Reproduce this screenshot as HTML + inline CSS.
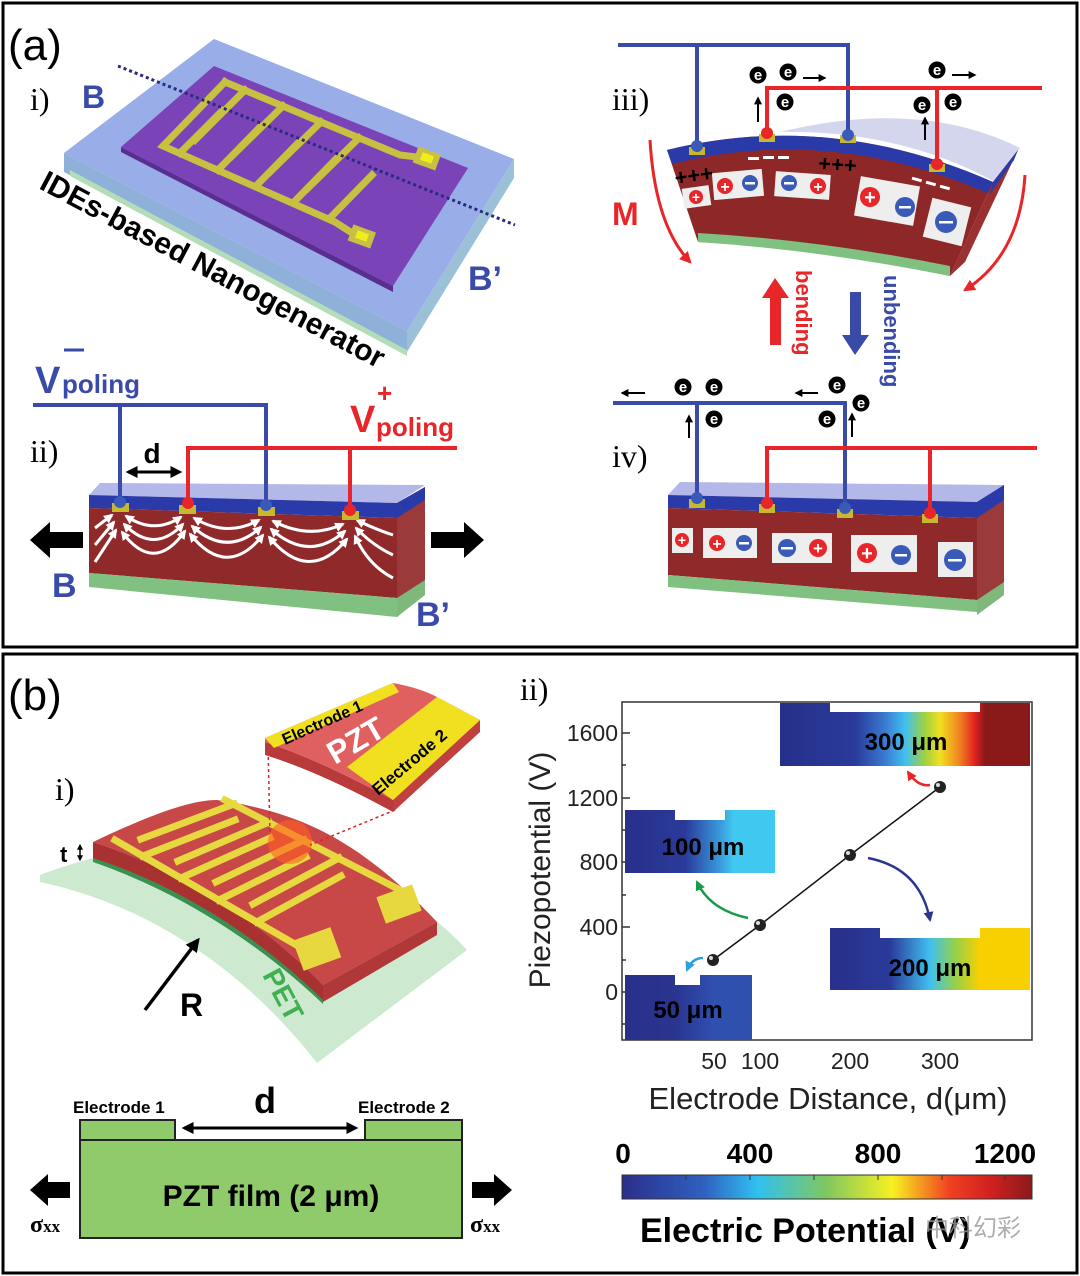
<!DOCTYPE html>
<html><head><meta charset="utf-8"><style>
html,body{margin:0;padding:0;background:#fff;}
svg{display:block;}
text{font-family:"Liberation Sans",sans-serif;}
.ser{font-family:"Liberation Serif",serif;}
</style></head><body>
<svg width="1080" height="1276" viewBox="0 0 1080 1276" xmlns="http://www.w3.org/2000/svg">
<defs>
<marker id="wa" viewBox="0 0 10 10" refX="8" refY="5" markerWidth="3.2" markerHeight="3.2" orient="auto-start-reverse"><path d="M0,0 L10,5 L0,10 Z" fill="#fff"/></marker>
<marker id="ka" viewBox="0 0 10 10" refX="8" refY="5" markerWidth="4" markerHeight="4" orient="auto-start-reverse"><path d="M0,0 L10,5 L0,10 Z" fill="#000"/></marker>
<marker id="ra" viewBox="0 0 10 10" refX="8" refY="5" markerWidth="4" markerHeight="4" orient="auto"><path d="M0,0 L10,5 L0,10 Z" fill="#e8262a"/></marker>
<marker id="ga" viewBox="0 0 10 10" refX="8" refY="5" markerWidth="4" markerHeight="4" orient="auto"><path d="M0,0 L10,5 L0,10 Z" fill="#1a9a4a"/></marker>
<marker id="ba" viewBox="0 0 10 10" refX="8" refY="5" markerWidth="4" markerHeight="4" orient="auto"><path d="M0,0 L10,5 L0,10 Z" fill="#2a3590"/></marker>
<marker id="ca" viewBox="0 0 10 10" refX="8" refY="5" markerWidth="4" markerHeight="4" orient="auto"><path d="M0,0 L10,5 L0,10 Z" fill="#2aa0e0"/></marker>
<linearGradient id="g300" x1="0" x2="1"><stop offset="0" stop-color="#25308a"/><stop offset="0.3" stop-color="#2a3a9a"/><stop offset="0.42" stop-color="#3a7ad0"/><stop offset="0.5" stop-color="#40c0f0"/><stop offset="0.58" stop-color="#a0d040"/><stop offset="0.64" stop-color="#f0e020"/><stop offset="0.72" stop-color="#f08020"/><stop offset="0.78" stop-color="#e02020"/><stop offset="0.82" stop-color="#8a1a1a"/><stop offset="1" stop-color="#8a1a1a"/></linearGradient>
<linearGradient id="g100" x1="0" x2="1"><stop offset="0" stop-color="#28308a"/><stop offset="0.4" stop-color="#2a3a9a"/><stop offset="0.65" stop-color="#3aa0e0"/><stop offset="0.72" stop-color="#40c8f0"/><stop offset="1" stop-color="#40c8f0"/></linearGradient>
<linearGradient id="g200" x1="0" x2="1"><stop offset="0" stop-color="#28308a"/><stop offset="0.3" stop-color="#2a3a9a"/><stop offset="0.5" stop-color="#40c0f0"/><stop offset="0.62" stop-color="#90d050"/><stop offset="0.75" stop-color="#f8d000"/><stop offset="1" stop-color="#f8d000"/></linearGradient>
<linearGradient id="g50" x1="0" x2="1"><stop offset="0" stop-color="#28308a"/><stop offset="0.4" stop-color="#2a3590"/><stop offset="0.7" stop-color="#3050b0"/><stop offset="1" stop-color="#3050b0"/></linearGradient>
<linearGradient id="gcb" x1="0" x2="1"><stop offset="0" stop-color="#2a2f8a"/><stop offset="0.2" stop-color="#3060c0"/><stop offset="0.33" stop-color="#30c0f0"/><stop offset="0.5" stop-color="#80c860"/><stop offset="0.66" stop-color="#f8f020"/><stop offset="0.8" stop-color="#f04020"/><stop offset="0.9" stop-color="#d02020"/><stop offset="1" stop-color="#8a1a1a"/></linearGradient>
</defs>

<rect x="3" y="3" width="1074" height="644" fill="none" stroke="#000" stroke-width="3"/>
<rect x="3" y="654" width="1074" height="619" fill="none" stroke="#000" stroke-width="3"/>

<!-- ============ (a) i ============ -->
<text x="8" y="60" font-size="44">(a)</text>
<text x="30" y="110" font-size="32" class="ser">i)</text>
<polygon points="64,153 407,331 407,352 64,172" fill="#8fb0d8"/>
<polygon points="407,331 514,159 514,178 407,352" fill="#9cc0d8"/>
<polygon points="70,170 407,350 407,356 70,176" fill="#b5dcb8"/>
<polygon points="64,153 214,39 514,159 407,331" fill="#8ea4e6" opacity="0.9"/>
<polygon points="121,147 214,66 468,168 393,286" fill="#7a44b8"/>
<polygon points="121,147 393,286 393,292 121,152" fill="#5a2e90"/>
<g stroke="#c8c040" stroke-width="7" fill="none" stroke-linecap="square">
<path d="M225,82 L400,155 L425,158"/>
<path d="M225,82 L163,146 L335,222 L360,238"/>
<path d="M245,90 L195,140"/><path d="M283,106 L232,156"/><path d="M321,122 L270,172"/><path d="M359,138 L308,188"/>
<path d="M180,153 L222,111"/><path d="M218,170 L260,127"/><path d="M256,186 L298,143"/><path d="M294,202 L336,159"/><path d="M330,218 L372,175"/>
</g>
<rect x="415" y="150" width="24" height="17" fill="#c8c040" transform="rotate(20 427 158)"/>
<rect x="421" y="154" width="12" height="8" fill="#f0ec20" transform="rotate(20 427 158)"/>
<rect x="350" y="228" width="24" height="17" fill="#c8c040" transform="rotate(20 362 236)"/>
<rect x="356" y="232" width="12" height="8" fill="#f0ec20" transform="rotate(20 362 236)"/>
<line x1="118" y1="66" x2="515" y2="225" stroke="#2a2a80" stroke-width="3" stroke-dasharray="3,3"/>
<text x="82" y="108" font-size="32" font-weight="bold" fill="#3a4aa8">B</text>
<text x="468" y="290" font-size="34" font-weight="bold" fill="#3a4aa8">B’</text>
<text x="0" y="0" font-size="30" font-weight="bold" transform="translate(38,188) rotate(28)">IDEs-based Nanogenerator</text>

<!-- ============ (a) ii ============ -->
<text x="30" y="462" font-size="32" class="ser">ii)</text>
<text x="35" y="393" font-size="38" font-weight="bold" fill="#3a4aa8">V</text>
<text x="62" y="393" font-size="26" font-weight="bold" fill="#3a4aa8">poling</text>
<line x1="64" y1="350" x2="84" y2="350" stroke="#3a4aa8" stroke-width="3"/>
<text x="350" y="432" font-size="38" font-weight="bold" fill="#e8262a">V</text>
<text x="376" y="436" font-size="26" font-weight="bold" fill="#e8262a">poling</text>
<text x="377" y="402" font-size="26" font-weight="bold" fill="#e8262a">+</text>
<polygon points="89,495 100,483 425,485 397,503" fill="#b4b8e8"/>
<polygon points="397,503 425,487 425,592 397,617" fill="#9a3a3a"/>
<polygon points="397,503 425,487 425,500 397,518" fill="#2a3aa8"/>
<polygon points="397,598 425,580 425,595 397,617" fill="#7fb87a"/>
<polygon points="89,495 397,503 397,518 89,508" fill="#2a3aa8"/>
<polygon points="89,508 397,518 397,598 89,573" fill="#902a2a"/>
<polygon points="89,573 397,598 397,617 89,587" fill="#80c080"/>
<g stroke="#fff" stroke-width="3" fill="none" marker-start="url(#wa)" marker-end="url(#wa)">
<path d="M126,516 Q154,535 181,517"/><path d="M124,524 Q154,555 183,524"/><path d="M122,532 Q154,575 185,531"/>
<path d="M194,518 Q227,538 259,520"/><path d="M192,526 Q227,558 261,527"/><path d="M190,534 Q227,580 263,535"/>
<path d="M273,521 Q309,540 343,524"/><path d="M271,529 Q309,563 345,531"/><path d="M269,537 Q309,585 347,539"/>
</g>
<g stroke="#fff" stroke-width="3" fill="none" marker-end="url(#wa)">
<path d="M95,528 L112,515"/><path d="M95,545 L114,522"/><path d="M95,562 L116,530"/>
<path d="M393,535 Q372,528 357,520"/><path d="M393,555 Q372,545 356,528"/><path d="M393,578 Q368,565 355,536"/>
</g>
<g fill="none" stroke-width="4">
<path d="M33,405 L266,405 L266,505" stroke="#3a4aa8"/>
<path d="M120,405 L120,502" stroke="#3a4aa8"/>
<path d="M457,448 L188,448 L188,503" stroke="#e8262a"/>
<path d="M350,448 L350,510" stroke="#e8262a"/>
</g>
<g fill="#c8b830"><rect x="112" y="503" width="17" height="9"/><rect x="179" y="505" width="17" height="9"/><rect x="258" y="507" width="17" height="9"/><rect x="342" y="511" width="17" height="9"/></g>
<circle cx="120" cy="502" r="6" fill="#3a5ab8"/><circle cx="188" cy="503" r="6" fill="#e8262a"/><circle cx="266" cy="505" r="6" fill="#3a5ab8"/><circle cx="350" cy="510" r="6" fill="#e8262a"/>
<line x1="128" y1="472" x2="180" y2="472" stroke="#000" stroke-width="3" marker-start="url(#ka)" marker-end="url(#ka)"/>
<text x="152" y="463" font-size="28" font-weight="bold" text-anchor="middle">d</text>
<polygon points="30,540 50,522 50,532 83,532 83,548 50,548 50,558" fill="#000"/>
<polygon points="484,540 464,522 464,532 431,532 431,548 464,548 464,558" fill="#000"/>
<text x="52" y="597" font-size="34" font-weight="bold" fill="#3a4aa8">B</text>
<text x="416" y="626" font-size="34" font-weight="bold" fill="#3a4aa8">B’</text>

<!-- ============ (a) iii ============ -->
<text x="612" y="110" font-size="32" class="ser">iii)</text>
<path d="M780,132 Q920,98 1020,148 L995,182 Q900,130 780,132 Z" fill="#c8cce8" opacity="0.8"/>
<path d="M667,150 Q830,110 993,182 L950,276 Q820,248 698,242 Z" fill="#8e2828"/>
<path d="M698,233 Q820,240 950,266 L950,276 Q820,250 698,242 Z" fill="#80c080"/>
<path d="M667,150 Q830,110 993,182 L990,194 Q830,124 672,164 Z" fill="#2a3aa8"/>
<path d="M993,182 L1018,150 L965,262 L950,276 Z" fill="#9a3030"/>
<path d="M993,182 L1018,150 L1014,160 L990,194 Z" fill="#2a3aa8"/>
<g fill="#eee">
<rect x="683" y="187" width="27" height="20" transform="rotate(-8 696 197)"/>
<rect x="713" y="171" width="50" height="27" transform="rotate(-5 738 185)"/>
<rect x="775" y="173" width="55" height="25" transform="rotate(4 802 185)"/>
<rect x="857" y="181" width="60" height="40" transform="rotate(10 887 201)"/>
<rect x="927" y="202" width="40" height="40" transform="rotate(14 947 222)"/>
</g>
<g font-weight="bold" fill="#fff" text-anchor="middle">
<circle cx="696" cy="197" r="7" fill="#e8262a"/><text x="696" y="202" font-size="14">+</text>
<circle cx="725" cy="186" r="8" fill="#e8262a"/><text x="725" y="192" font-size="16">+</text>
<circle cx="750" cy="183" r="8" fill="#3a5ab8"/><rect x="745" y="182" width="10" height="2.5"/>
<circle cx="789" cy="183" r="8" fill="#3a5ab8"/><rect x="784" y="182" width="10" height="2.5"/>
<circle cx="818" cy="186" r="8" fill="#e8262a"/><text x="818" y="192" font-size="16">+</text>
<circle cx="870" cy="197" r="10" fill="#e8262a"/><text x="870" y="204" font-size="20">+</text>
<circle cx="905" cy="207" r="10" fill="#3a5ab8"/><rect x="899" y="206" width="12" height="2.5"/>
<circle cx="946" cy="222" r="11" fill="#3a5ab8"/><rect x="939" y="221" width="14" height="2.5"/>
</g>
<text x="675" y="182" font-size="22" font-weight="bold" transform="rotate(-8 700 178)">+++</text>
<text x="818" y="172" font-size="22" font-weight="bold" transform="rotate(4 840 168)">+++</text>
<g fill="#fff"><rect x="748" y="157" width="11" height="3"/><rect x="763" y="156" width="11" height="3"/><rect x="778" y="156" width="11" height="3"/>
<rect x="912" y="178" width="10" height="3" transform="rotate(15 917 179)"/><rect x="926" y="182" width="10" height="3" transform="rotate(15 931 183)"/><rect x="940" y="186" width="10" height="3" transform="rotate(15 945 187)"/></g>
<g fill="none" stroke-width="4">
<path d="M618,45 L848,45 L848,135" stroke="#3a4aa8"/>
<path d="M697,45 L697,148" stroke="#3a4aa8"/>
<path d="M1042,88 L767,88 L767,135" stroke="#e8262a"/>
<path d="M937,88 L937,165" stroke="#e8262a"/>
</g>
<g fill="#c8b830"><rect x="689" y="147" width="16" height="8"/><rect x="759" y="134" width="16" height="8"/><rect x="840" y="135" width="16" height="8"/><rect x="929" y="164" width="16" height="8"/></g>
<circle cx="697" cy="146" r="6" fill="#3a5ab8"/><circle cx="767" cy="133" r="6" fill="#e8262a"/><circle cx="848" cy="135" r="6" fill="#3a5ab8"/><circle cx="937" cy="164" r="6" fill="#e8262a"/>
<g font-size="15" font-weight="bold" fill="#fff" text-anchor="middle">
<circle cx="758" cy="75" r="8.5" fill="#000"/><text x="758" y="80">e</text>
<circle cx="788" cy="72" r="8.5" fill="#000"/><text x="788" y="77">e</text>
<circle cx="785" cy="102" r="8.5" fill="#000"/><text x="785" y="107">e</text>
<circle cx="937" cy="70" r="8.5" fill="#000"/><text x="937" y="75">e</text>
<circle cx="922" cy="105" r="8.5" fill="#000"/><text x="922" y="110">e</text>
<circle cx="953" cy="102" r="8.5" fill="#000"/><text x="953" y="107">e</text>
</g>
<g stroke="#000" stroke-width="2" marker-end="url(#ka)">
<line x1="803" y1="78" x2="825" y2="78"/><line x1="952" y1="75" x2="975" y2="75"/>
<line x1="758" y1="122" x2="758" y2="98"/><line x1="925" y1="140" x2="925" y2="118"/>
</g>
<text x="612" y="225" font-size="32" font-weight="bold" fill="#e8262a">M</text>
<path d="M650,140 Q655,225 690,262" fill="none" stroke="#e8262a" stroke-width="3" marker-end="url(#ra)"/>
<path d="M1025,175 Q1020,255 965,290" fill="none" stroke="#e8262a" stroke-width="3" marker-end="url(#ra)"/>
<polygon points="775,278 762,298 770,298 770,345 781,345 781,298 789,298" fill="#e8262a"/>
<polygon points="855,355 842,335 850,335 850,292 861,292 861,335 869,335" fill="#3a4aa8"/>
<text x="0" y="0" font-size="22" font-weight="bold" fill="#e8262a" transform="translate(796,270) rotate(90)">bending</text>
<text x="0" y="0" font-size="22" font-weight="bold" fill="#3a4aa8" transform="translate(884,275) rotate(90)">unbending</text>

<!-- ============ (a) iv ============ -->
<text x="612" y="467" font-size="32" class="ser">iv)</text>
<polygon points="668,495 680,482 1004,485 977,502" fill="#b4b8e8"/>
<polygon points="977,502 1004,485 1004,590 977,615" fill="#9a3a3a"/>
<polygon points="977,502 1004,485 1004,500 977,518" fill="#2a3aa8"/>
<polygon points="977,600 1004,582 1004,595 977,615" fill="#7fb87a"/>
<polygon points="668,495 977,502 977,518 668,508" fill="#2a3aa8"/>
<polygon points="668,508 977,518 977,600 668,575" fill="#902a2a"/>
<polygon points="668,575 977,600 977,612 668,587" fill="#80c080"/>
<g fill="#eee"><rect x="672" y="528" width="21" height="25"/><rect x="703" y="528" width="54" height="30"/><rect x="772" y="533" width="60" height="30"/><rect x="851" y="535" width="66" height="37"/><rect x="938" y="542" width="35" height="35"/></g>
<g font-weight="bold" fill="#fff" text-anchor="middle">
<circle cx="682" cy="540" r="7" fill="#e8262a"/><text x="682" y="545" font-size="14">+</text>
<circle cx="717" cy="543" r="8" fill="#e8262a"/><text x="717" y="549" font-size="16">+</text>
<circle cx="744" cy="543" r="8" fill="#3a5ab8"/><rect x="739" y="542" width="10" height="2.5"/>
<circle cx="787" cy="548" r="9" fill="#3a5ab8"/><rect x="781" y="547" width="12" height="2.5"/>
<circle cx="818" cy="548" r="9" fill="#e8262a"/><text x="818" y="554" font-size="17">+</text>
<circle cx="867" cy="553" r="10" fill="#e8262a"/><text x="867" y="560" font-size="20">+</text>
<circle cx="901" cy="555" r="10" fill="#3a5ab8"/><rect x="895" y="554" width="12" height="2.5"/>
<circle cx="955" cy="560" r="11" fill="#3a5ab8"/><rect x="948" y="559" width="14" height="2.5"/>
</g>
<g fill="none" stroke-width="4">
<path d="M613,403 L845,403 L845,508" stroke="#3a4aa8"/>
<path d="M697,403 L697,498" stroke="#3a4aa8"/>
<path d="M1037,448 L767,448 L767,503" stroke="#e8262a"/>
<path d="M930,448 L930,513" stroke="#e8262a"/>
</g>
<g fill="#c8b830"><rect x="689" y="499" width="16" height="9"/><rect x="759" y="504" width="16" height="9"/><rect x="837" y="509" width="16" height="9"/><rect x="922" y="514" width="16" height="9"/></g>
<circle cx="697" cy="498" r="6" fill="#3a5ab8"/><circle cx="767" cy="503" r="6" fill="#e8262a"/><circle cx="845" cy="508" r="6" fill="#3a5ab8"/><circle cx="930" cy="513" r="6" fill="#e8262a"/>
<g font-size="15" font-weight="bold" fill="#fff" text-anchor="middle">
<circle cx="683" cy="387" r="8.5" fill="#000"/><text x="683" y="392">e</text>
<circle cx="714" cy="387" r="8.5" fill="#000"/><text x="714" y="392">e</text>
<circle cx="714" cy="419" r="8.5" fill="#000"/><text x="714" y="424">e</text>
<circle cx="837" cy="385" r="8.5" fill="#000"/><text x="837" y="390">e</text>
<circle cx="861" cy="403" r="8.5" fill="#000"/><text x="861" y="408">e</text>
<circle cx="827" cy="419" r="8.5" fill="#000"/><text x="827" y="424">e</text>
</g>
<g stroke="#000" stroke-width="2" marker-end="url(#ka)">
<line x1="645" y1="393" x2="622" y2="393"/><line x1="818" y1="393" x2="796" y2="393"/>
<line x1="689" y1="438" x2="689" y2="416"/><line x1="852" y1="437" x2="852" y2="414"/>
</g>

<!-- ============ (b) i ============ -->
<text x="8" y="710" font-size="44">(b)</text>
<text x="55" y="800" font-size="32" class="ser">i)</text>
<path d="M40,875 C130,840 250,830 330,860 C400,890 440,920 467,950 L317,1063 C260,990 170,910 40,882 Z" fill="#c8e8cc" opacity="0.9"/>
<path d="M93,842 C150,815 190,800 217,800 C300,812 360,840 437,922 L323,985 C260,920 180,870 93,842 Z" fill="#c84848"/>
<path d="M93,842 C180,870 260,920 323,985 L323,1002 C260,940 180,888 93,860 Z" fill="#a83232"/>
<path d="M93,858 C180,886 260,938 323,1000 L323,1004 C260,944 180,892 93,862 Z" fill="#3a9050"/>
<path d="M437,922 L323,985 L323,1002 L437,935 Z" fill="#b03838"/>
<g stroke="#e8d840" stroke-width="7" fill="none" stroke-linecap="square">
<path d="M115,840 L305,950"/>
<path d="M225,800 L400,890"/>
<path d="M143,856 L235,820"/><path d="M181,878 L270,838"/><path d="M219,900 L306,857"/><path d="M257,922 L341,876"/>
<path d="M234,804 L141,839"/><path d="M269,822 L178,861"/><path d="M304,840 L216,882"/><path d="M339,858 L253,904"/>
</g>
<rect x="297" y="933" width="40" height="32" fill="#e8d840" transform="rotate(-20 317 949)"/>
<rect x="380" y="890" width="38" height="28" fill="#e8d840" transform="rotate(-20 399 904)"/>
<circle cx="290" cy="842" r="22" fill="#ff6020" opacity="0.6"/>
<g stroke="#e02020" stroke-width="1.5" stroke-dasharray="3,3" fill="none">
<line x1="268" y1="745" x2="270" y2="835"/><line x1="395" y1="810" x2="310" y2="845"/>
</g>
<text x="60" y="862" font-size="22" font-weight="bold">t</text>
<line x1="80" y1="845" x2="80" y2="860" stroke="#000" stroke-width="1.5" marker-start="url(#ka)" marker-end="url(#ka)"/>
<line x1="145" y1="1010" x2="198" y2="940" stroke="#000" stroke-width="3.5" marker-end="url(#ka)"/>
<text x="180" y="1016" font-size="32" font-weight="bold">R</text>
<text x="0" y="0" font-size="28" font-weight="bold" fill="#40b050" transform="translate(262,975) rotate(62)">PET</text>
<path d="M265,742 Q320,760 393,800 L393,812 Q320,772 265,755 Z" fill="#b83a3a"/>
<path d="M480,720 L480,732 L393,812 L393,800 Z" fill="#c04040"/>
<path d="M265,738 L393,683 Q420,688 437,697 L480,720 L393,800 Q320,760 265,742 Z" fill="#e06060"/>
<path d="M265,738 L393,683 L399,692 L274,748 Z" fill="#f0e020"/>
<path d="M347,767 L437,697 L480,720 L393,800 Z" fill="#f0e020"/>
<text x="0" y="0" font-size="16" font-weight="bold" transform="translate(285,745) rotate(-24)">Electrode 1</text>
<text x="0" y="0" font-size="32" font-weight="bold" fill="#fff" transform="translate(335,765) rotate(-30)">PZT</text>
<text x="0" y="0" font-size="17" font-weight="bold" transform="translate(378,796) rotate(-40)">Electrode 2</text>
<rect x="80" y="1120" width="95" height="20" fill="#8fcb6a" stroke="#222" stroke-width="2"/>
<rect x="365" y="1120" width="97" height="20" fill="#8fcb6a" stroke="#222" stroke-width="2"/>
<rect x="80" y="1140" width="382" height="98" fill="#8fcb6a" stroke="#222" stroke-width="2"/>
<text x="73" y="1113" font-size="17" font-weight="bold">Electrode 1</text>
<text x="358" y="1113" font-size="17" font-weight="bold">Electrode 2</text>
<text x="265" y="1113" font-size="36" font-weight="bold" text-anchor="middle">d</text>
<line x1="184" y1="1128" x2="356" y2="1128" stroke="#000" stroke-width="3" marker-start="url(#ka)" marker-end="url(#ka)"/>
<text x="271" y="1206" font-size="30" font-weight="bold" text-anchor="middle">PZT film (2 μm)</text>
<polygon points="30,1190 48,1174 48,1182 70,1182 70,1198 48,1198 48,1206" fill="#000"/>
<polygon points="512,1190 494,1174 494,1182 472,1182 472,1198 494,1198 494,1206" fill="#000"/>
<text x="30" y="1232" font-size="24" font-weight="bold" class="ser">σ<tspan font-size="17">xx</tspan></text>
<text x="470" y="1232" font-size="24" font-weight="bold" class="ser">σ<tspan font-size="17">xx</tspan></text>

<!-- ============ (b) ii ============ -->
<text x="520" y="700" font-size="32" class="ser">ii)</text>
<rect x="622" y="702" width="410" height="338" fill="none" stroke="#333" stroke-width="1.5"/>
<g stroke="#333" stroke-width="1.5">
<line x1="622" y1="733" x2="630" y2="733"/><line x1="622" y1="798" x2="630" y2="798"/><line x1="622" y1="862" x2="630" y2="862"/><line x1="622" y1="927" x2="630" y2="927"/><line x1="622" y1="992" x2="630" y2="992"/>
<line x1="622" y1="765" x2="626" y2="765"/><line x1="622" y1="830" x2="626" y2="830"/><line x1="622" y1="895" x2="626" y2="895"/><line x1="622" y1="960" x2="626" y2="960"/><line x1="622" y1="1024" x2="626" y2="1024"/>
</g>
<g font-size="23" fill="#222" text-anchor="end">
<text x="618" y="741">1600</text><text x="618" y="806">1200</text><text x="618" y="870">800</text><text x="618" y="935">400</text><text x="618" y="1000">0</text>
</g>
<g font-size="23" fill="#222" text-anchor="middle">
<text x="714" y="1069">50</text><text x="760" y="1069">100</text><text x="850" y="1069">200</text><text x="940" y="1069">300</text>
</g>
<text x="0" y="0" font-size="30" fill="#222" text-anchor="middle" transform="translate(550,870) rotate(-90)">Piezopotential (V)</text>
<text x="828" y="1109" font-size="31" fill="#222" text-anchor="middle">Electrode Distance, d(μm)</text>
<path d="M780,703 L830,703 L830,712 L980,712 L980,703 L1030,703 L1030,766 L780,766 Z" fill="url(#g300)"/>
<text x="906" y="750" font-size="24" font-weight="bold" text-anchor="middle">300 μm</text>
<path d="M625,810 L675,810 L675,820 L725,820 L725,810 L775,810 L775,873 L625,873 Z" fill="url(#g100)"/>
<text x="703" y="855" font-size="24" font-weight="bold" text-anchor="middle">100 μm</text>
<path d="M830,928 L880,928 L880,938 L980,938 L980,928 L1030,928 L1030,990 L830,990 Z" fill="url(#g200)"/>
<text x="930" y="976" font-size="24" font-weight="bold" text-anchor="middle">200 μm</text>
<path d="M625,975 L675,975 L675,985 L700,985 L700,975 L752,975 L752,1040 L625,1040 Z" fill="url(#g50)"/>
<text x="688" y="1018" font-size="24" font-weight="bold" text-anchor="middle">50 μm</text>
<polyline points="713,960 760,925 850,855 940,787" fill="none" stroke="#111" stroke-width="1.5"/>
<g fill="#222"><circle cx="713" cy="960" r="6"/><circle cx="760" cy="925" r="6"/><circle cx="850" cy="855" r="6"/><circle cx="940" cy="787" r="6"/></g>
<g fill="#ddd"><circle cx="711" cy="958" r="2"/><circle cx="758" cy="923" r="2"/><circle cx="848" cy="853" r="2"/><circle cx="938" cy="785" r="2"/></g>
<path d="M930,785 Q918,787 908,772" fill="none" stroke="#e8262a" stroke-width="2.5" marker-end="url(#ra)"/>
<path d="M868,858 Q920,868 930,920" fill="none" stroke="#2a3590" stroke-width="2.5" marker-end="url(#ba)"/>
<path d="M748,918 Q710,910 697,882" fill="none" stroke="#1a9a4a" stroke-width="2.5" marker-end="url(#ga)"/>
<path d="M703,958 Q692,958 687,970" fill="none" stroke="#2aa0e0" stroke-width="2.5" marker-end="url(#ca)"/>
<g font-size="28" font-weight="bold" text-anchor="middle">
<text x="623" y="1163">0</text><text x="750" y="1163">400</text><text x="878" y="1163">800</text><text x="1005" y="1163">1200</text>
</g>
<rect x="622" y="1175" width="410" height="24" fill="url(#gcb)" stroke="#333" stroke-width="1"/>
<g stroke="#333" stroke-width="1"><line x1="686" y1="1175" x2="686" y2="1180"/><line x1="750" y1="1175" x2="750" y2="1180"/><line x1="814" y1="1175" x2="814" y2="1180"/><line x1="878" y1="1175" x2="878" y2="1180"/><line x1="942" y1="1175" x2="942" y2="1180"/><line x1="1005" y1="1175" x2="1005" y2="1180"/></g>
<text x="640" y="1242" font-size="34" font-weight="bold">Electric Potential (V)</text>
<text x="925" y="1236" font-size="24" fill="#999" opacity="0.8" style="font-family:'Liberation Sans','Noto Sans CJK SC',sans-serif">中科幻彩</text>
</svg>
</body></html>
